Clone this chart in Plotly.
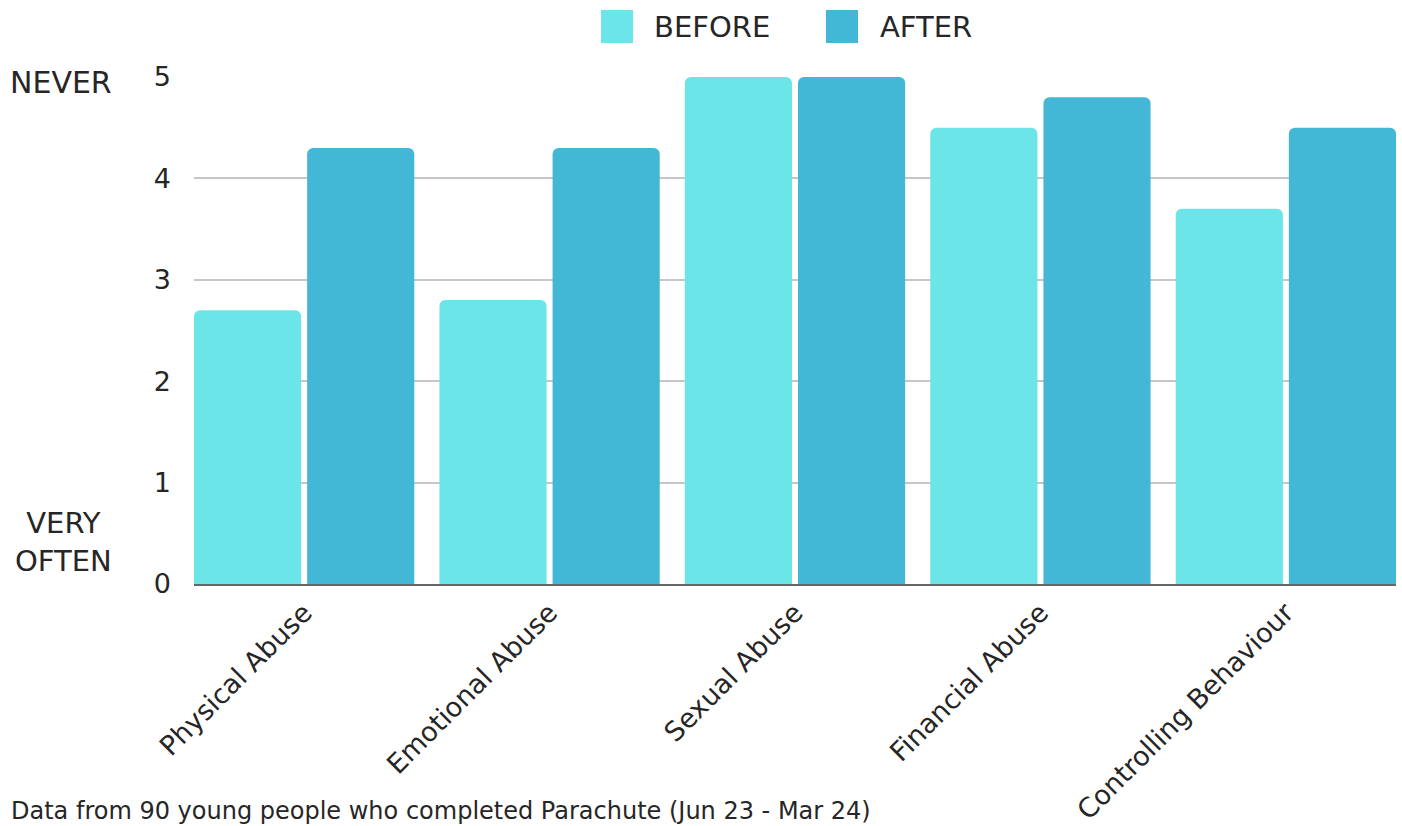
import plotly.graph_objects as go

categories = ["Physical Abuse", "Emotional Abuse", "Sexual Abuse", "Financial Abuse", "Controlling Behaviour"]
series_names = ["BEFORE", "AFTER"]
before_values = [2.7, 2.8, 5.0, 4.5, 3.7]
after_values = [4.3, 4.3, 5.0, 4.8, 4.5]
y_ticks = [0, 1, 2, 3, 4, 5]
footnote = "Data from 90 young people who completed Parachute (Jun 23 - Mar 24)"
top_label = "NEVER"
bottom_label = "VERY<br>OFTEN"

colors = ["#6be5e8", "#42b7d6"]
FONT = "DejaVu Sans"
TXT = "#262626"

BARGAP = 0.078
GROUPGAP = 0.053

fig = go.Figure()
for name, vals, col in zip(series_names, [before_values, after_values], colors):
    fig.add_trace(go.Bar(x=categories, y=vals, name=name, marker=dict(color=col, line=dict(width=0)),
                         showlegend=False))

W, H = 1402, 826
L, R, T, B = 194, 6, 77, 242
pw, ph = W - L - R, H - T - B

def px(xp):
    return (xp - L) / pw

def py(yp):
    return (H - B - yp) / ph

shapes = []
annotations = []
leg_x = [601, 826]
leg_tx = [654, 880]
for i, name in enumerate(series_names):
    shapes.append(dict(type="rect", xref="paper", yref="paper",
                       x0=px(leg_x[i]), x1=px(leg_x[i] + 32), y0=py(43), y1=py(10),
                       fillcolor=colors[i], line=dict(width=0), layer="above"))
    annotations.append(dict(text=name, xref="paper", yref="paper", x=px(leg_tx[i] - 2), y=py(27),
                            xanchor="left", yanchor="middle", showarrow=False,
                            font=dict(family=FONT, size=29, color=TXT)))

annotations.append(dict(text=top_label, xref="paper", yref="paper", x=px(8), y=py(82),
                        xanchor="left", yanchor="middle", showarrow=False,
                        font=dict(family=FONT, size=30, color=TXT)))
annotations.append(dict(text=bottom_label, xref="paper", yref="paper", x=px(63), y=py(542),
                        xanchor="center", yanchor="middle", showarrow=False, align="center",
                        font=dict(family=FONT, size=29, color=TXT)))
annotations.append(dict(text=footnote, xref="paper", yref="paper", x=px(9), y=py(811),
                        xanchor="left", yanchor="middle", showarrow=False,
                        font=dict(family=FONT, size=24, color=TXT)))

# x range so that the outer bars touch the plot edges
slot = (1 - BARGAP) / 2
edge = 0.5 - BARGAP / 2 - slot * GROUPGAP / 2

fig.update_layout(
    width=W, height=H,
    margin=dict(l=L, r=R, t=T, b=B, autoexpand=False),
    paper_bgcolor="white", plot_bgcolor="white",
    barmode="group", bargap=BARGAP, bargroupgap=GROUPGAP, barcornerradius=6,
    font=dict(family=FONT, color=TXT),
    shapes=shapes, annotations=annotations,
    showlegend=False,
)
fig.update_xaxes(
    range=[-edge, len(categories) - 1 + edge],
    showgrid=False, showline=True, linecolor="#666666", linewidth=2,
    tickangle=-45, tickfont=dict(family=FONT, size=27, color=TXT),
    ticks="", ticklabelstandoff=0, layer="below traces", automargin=False,
)
fig.update_yaxes(
    range=[0, 5], tickvals=y_ticks, showgrid=True, gridcolor="#c6c6c6", gridwidth=1.5,
    zeroline=False, showline=False, tickfont=dict(family=FONT, size=27, color=TXT),
    ticks="", ticklabelstandoff=22, layer="below traces", automargin=False,
)

fig.write_html("out.html")
